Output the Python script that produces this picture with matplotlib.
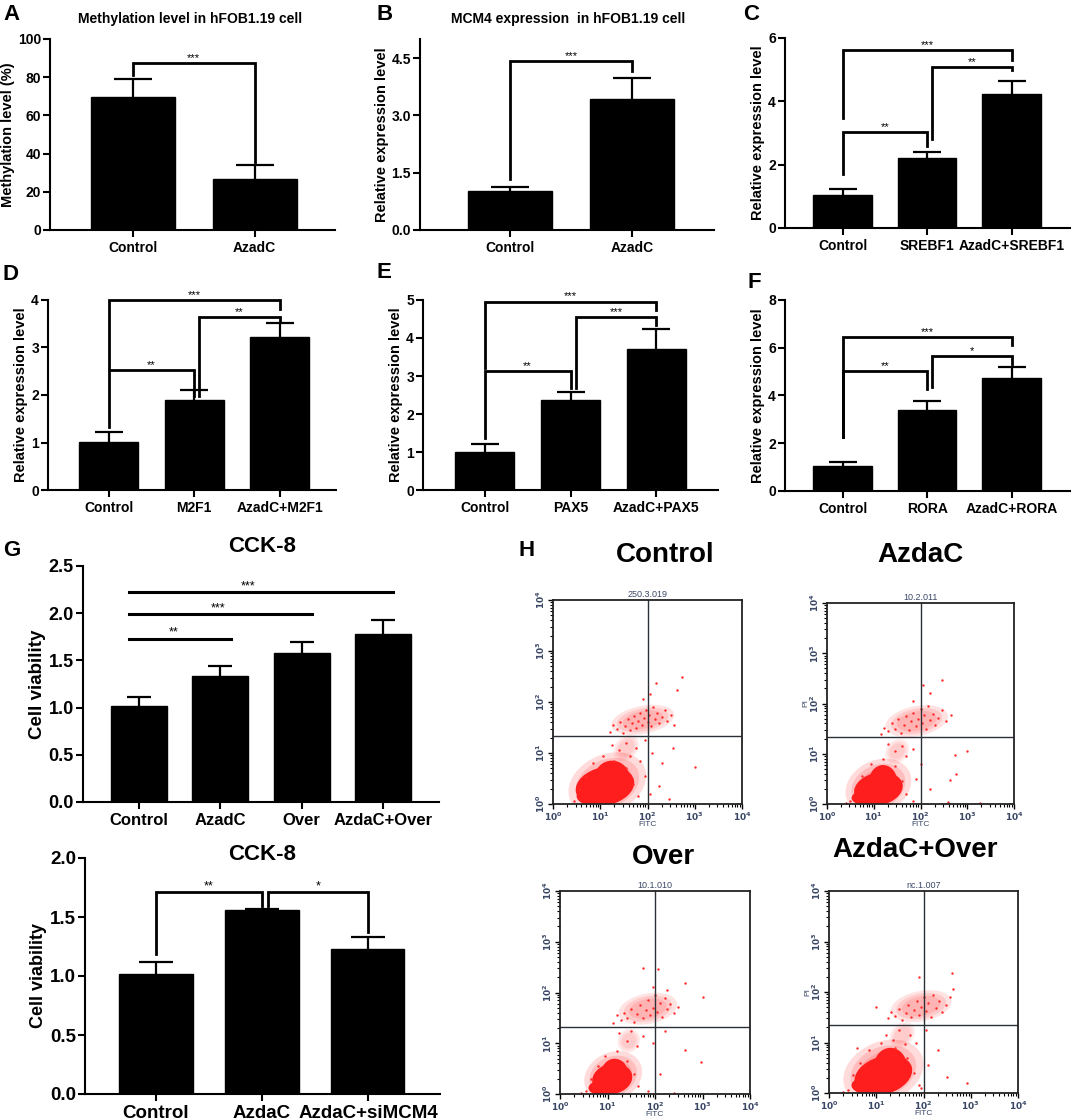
import numpy as np
import matplotlib
matplotlib.use("Agg")
import matplotlib.pyplot as plt
from matplotlib.patches import Ellipse

plt.rcParams['font.family'] = ['Liberation Sans', 'DejaVu Sans']
plt.rcParams['font.weight'] = 'bold'
plt.rcParams['axes.linewidth'] = 1.5

W, H = 1072, 1120

# ---------------- bar chart data (mean, sd) ----------------
a_groups = ['Control', 'AzadC']
a_means = [69.4, 26.6]
a_sds = [9.6, 7.2]
a_brackets = [(0, 1, 87.4, 81.0, 35.7, '***')]

b_groups = ['Control', 'AzadC']
b_means = [1.02, 3.44]
b_sds = [0.11, 0.55]
b_brackets = [(0, 1, 4.42, 1.33, 4.17, '***')]

c_groups = ['Control', 'SREBF1', 'AzadC+SREBF1']
c_means = [1.03, 2.22, 4.24]
c_sds = [0.19, 0.18, 0.39]
c_brackets = [(0, 2, 5.61, 3.48, 5.29, '***'),
              (1, 2, 5.08, 2.82, 4.98, '**'),
              (0, 1, 3.03, 1.69, 2.59, '**')]

d_groups = ['Control', 'M2F1', 'AzadC+M2F1']
d_means = [1.01, 1.90, 3.22]
d_sds = [0.21, 0.20, 0.29]
d_brackets = [(0, 2, 3.99, 2.57, 3.81, '***'),
              (1, 2, 3.65, 1.98, 3.55, '**'),
              (0, 1, 2.53, 1.33, 1.98, '**')]

e_groups = ['Control', 'PAX5', 'AzadC+PAX5']
e_means = [1.01, 2.37, 3.70]
e_sds = [0.20, 0.22, 0.54]
e_brackets = [(0, 2, 4.96, 3.20, 4.74, '***'),
              (1, 2, 4.56, 2.68, 4.34, '***'),
              (0, 1, 3.13, 1.36, 2.68, '**')]

f_groups = ['Control', 'RORA', 'AzadC+RORA']
f_means = [1.05, 3.41, 4.74]
f_sds = [0.18, 0.34, 0.45]
f_brackets = [(0, 2, 6.46, 2.27, 6.11, '***'),
              (1, 2, 5.65, 4.36, 5.34, '*'),
              (0, 1, 5.03, 2.27, 4.29, '**')]

g1_groups = ['Control', 'AzadC', 'Over', 'AzdaC+Over']
g1_means = [1.02, 1.34, 1.58, 1.78]
g1_sds = [0.09, 0.10, 0.11, 0.15]
# (end group, height, star position, label)
g1_lines = [(1, 1.73, 0.42, '**'), (2, 1.99, 0.97, '***'), (3, 2.22, 1.34, '***')]

g2_groups = ['Control', 'AzdaC', 'AzdaC+siMCM4']
g2_means = [1.02, 1.56, 1.23]
g2_sds = [0.10, 0.01, 0.10]
g2_brackets = [(0, 1, 1.71, 1.19, 1.59, '**'),
               (1, 2, 1.71, 1.59, 1.37, '*')]

# ---------------- flow cytometry data (log10 units) ----------------
flow_titles = ['Control', 'AzdaC', 'Over', 'AzdaC+Over']
flow_tags = ['250.3.019', '10.2.011', '10.1.010', 'nc.1.007']
flow_gate_fitc = [2.0, 2.0, 2.0, 2.0]
flow_gate_pi = [1.33, 1.33, 1.32, 1.34]

# dense cores: (centre fitc, centre pi, width, height, angle)
ctrl_core = [(1.10, 0.35, 1.25, 0.75, 10), (1.25, 0.50, 0.75, 0.70, 0), (0.85, 0.15, 0.70, 0.35, 0)]
azd_core = [(1.10, 0.30, 1.05, 0.65, 10), (1.20, 0.45, 0.60, 0.65, 0), (0.85, 0.12, 0.65, 0.30, 0)]
over_core = [(1.10, 0.30, 0.85, 0.60, 10), (1.15, 0.42, 0.55, 0.55, 0), (0.90, 0.12, 0.60, 0.30, 0)]
azo_core = [(1.15, 0.35, 1.25, 0.75, 15), (1.30, 0.52, 0.70, 0.75, 0), (0.85, 0.15, 0.75, 0.35, 0)]

# looser haze round the core and the upper (late apoptotic) cluster: (cx, cy, w, h, angle, alpha)
ctrl_haze = [(1.15, 0.40, 1.70, 1.15, 20, 0.35), (1.90, 1.65, 1.35, 0.55, 10, 0.28),
             (1.55, 1.10, 0.60, 0.45, 40, 0.18)]
azd_haze = [(1.10, 0.35, 1.45, 1.05, 20, 0.35), (1.92, 1.65, 1.35, 0.60, 10, 0.28),
            (1.50, 1.05, 0.55, 0.45, 40, 0.18)]
over_haze = [(1.12, 0.35, 1.25, 0.95, 20, 0.35), (1.85, 1.68, 1.25, 0.60, 10, 0.28),
             (1.45, 1.05, 0.50, 0.45, 40, 0.18)]
azo_haze = [(1.15, 0.42, 1.75, 1.20, 20, 0.35), (1.95, 1.72, 1.30, 0.60, 10, 0.28),
            (1.55, 1.15, 0.60, 0.45, 40, 0.18)]

ctrl_fitc = [1.20, 1.28, 1.35, 1.42, 1.48, 1.52, 1.58, 1.63, 1.68, 1.72, 1.76, 1.80, 1.84, 1.88,
             1.92, 1.96, 2.00, 2.04, 2.08, 2.12, 2.16, 2.20, 2.25, 2.30, 2.36, 2.42, 2.50, 2.56,
             1.90, 2.05, 2.19, 2.62, 2.72,
             1.25, 1.40, 1.55, 1.62, 1.75, 1.85, 1.95, 2.10, 2.30, 2.55, 3.00, 2.25, 2.45, 1.95, 2.05,
             0.45, 0.55, 0.70, 0.85, 1.05, 1.30, 1.55, 1.70, 1.80, 0.65]
ctrl_pi = [1.42, 1.55, 1.48, 1.60, 1.40, 1.52, 1.66, 1.45, 1.58, 1.72, 1.50, 1.62, 1.78, 1.55,
           1.68, 1.84, 1.60, 1.74, 1.52, 1.90, 1.66, 1.78, 1.58, 1.70, 1.85, 1.62, 1.75, 1.55,
           2.05, 2.15, 2.37, 2.24, 2.49,
           1.15, 1.05, 1.20, 0.95, 1.10, 0.85, 1.25, 1.00, 0.80, 1.10, 0.73, 0.35, 0.10, 0.55, 0.20,
           0.05, 0.30, 0.55, 0.80, 0.95, 0.85, 0.70, 0.40, 0.15, 0.02]

azd_fitc = [1.15, 1.22, 1.30, 1.38, 1.45, 1.52, 1.58, 1.64, 1.70, 1.75, 1.80, 1.85, 1.90, 1.95,
            2.00, 2.04, 2.08, 2.12, 2.16, 2.20, 2.26, 2.32, 2.38, 2.45, 2.55, 2.65, 1.85, 2.05,
            2.45, 2.20,
            1.30, 1.45, 1.60, 1.70, 1.85, 2.00, 2.74, 2.99, 2.77, 2.63, 3.27, 2.59, 2.20, 1.90,
            0.50, 0.60, 0.75, 0.95, 1.20, 1.45, 1.60, 1.70, 0.40, 1.85]
azd_pi = [1.40, 1.52, 1.45, 1.62, 1.50, 1.70, 1.42, 1.58, 1.75, 1.48, 1.65, 1.82, 1.55, 1.70,
          1.90, 1.62, 1.78, 1.50, 1.95, 1.68, 1.80, 1.58, 1.72, 1.88, 1.65, 1.78, 2.05, 2.37,
          2.47, 2.20,
          1.20, 1.05, 1.15, 0.95, 1.10, 0.80, 0.97, 1.06, 0.60, 0.48, 0.02, 0.04, 0.30, 0.50,
          0.05, 0.30, 0.55, 0.80, 0.90, 0.75, 0.45, 0.20, 0.02, 0.05]

over_fitc = [1.12, 1.20, 1.28, 1.35, 1.42, 1.50, 1.56, 1.62, 1.68, 1.74, 1.80, 1.86, 1.90, 1.95,
             2.00, 2.05, 2.10, 2.15, 2.20, 2.25, 2.32, 2.40, 2.48, 1.95, 2.25, 1.75, 2.06, 2.63,
             3.00,
             1.25, 1.40, 1.50, 1.62, 1.75, 1.95, 2.20, 2.63, 2.97, 2.10, 1.85, 2.40,
             0.55, 0.65, 0.80, 0.95, 1.20, 1.40, 1.55, 1.65, 0.45]
over_pi = [1.40, 1.55, 1.45, 1.60, 1.50, 1.68, 1.42, 1.58, 1.75, 1.50, 1.65, 1.85, 1.55, 1.70,
           1.95, 1.62, 1.80, 1.52, 1.90, 1.68, 1.78, 1.60, 1.72, 2.10, 2.05, 2.48, 2.46, 2.19,
           1.91,
           1.20, 1.05, 1.25, 0.95, 1.15, 1.00, 1.25, 0.87, 0.63, 0.40, 0.05, 0.02,
           0.05, 0.30, 0.55, 0.75, 0.85, 0.65, 0.40, 0.15, 0.02]

azo_fitc = [1.25, 1.32, 1.40, 1.48, 1.55, 1.62, 1.68, 1.74, 1.80, 1.86, 1.90, 1.95, 2.00, 2.05,
            2.10, 2.15, 2.20, 2.26, 2.32, 2.40, 2.48, 2.56, 2.62, 2.60, 1.90, 1.00,
            1.20, 1.35, 1.48, 1.60, 1.72, 1.85, 2.05, 2.30, 2.92, 2.49, 2.10, 1.95, 0.59,
            0.40, 0.50, 0.65, 0.85, 1.10, 1.40, 1.65, 1.80, 1.90, 0.30]
azo_pi = [1.48, 1.60, 1.52, 1.66, 1.45, 1.58, 1.75, 1.50, 1.64, 1.82, 1.55, 1.70, 1.90, 1.62,
          1.78, 1.50, 1.95, 1.68, 1.82, 1.60, 1.75, 1.90, 2.05, 2.37, 2.30, 1.70,
          1.15, 1.05, 1.25, 0.98, 1.15, 1.00, 1.25, 0.85, 0.20, 0.32, 0.55, 0.10, 0.89,
          0.05, 0.35, 0.60, 0.85, 1.00, 0.90, 0.70, 0.40, 0.15, 0.02]

flow_cores = [ctrl_core, azd_core, over_core, azo_core]
flow_hazes = [ctrl_haze, azd_haze, over_haze, azo_haze]
flow_fitc = [ctrl_fitc, azd_fitc, over_fitc, azo_fitc]
flow_pi = [ctrl_pi, azd_pi, over_pi, azo_pi]


fig = plt.figure(figsize=(W / 100, H / 100), dpi=100)


def px_axes(left, top, right, bottom):
    return fig.add_axes([left / W, 1 - bottom / H, (right - left) / W, (bottom - top) / H])


def ftext(x, y, s, **kw):
    fig.text(x / W, 1 - y / H, s, **kw)


def bar_panel(ax, groups, means, sds, ylim, yticks, fmt, xlim, cap,
              ylabel, fs_tick=10, fs_x=10, fs_yl=10.5):
    x = np.arange(len(groups))
    # bars sit above the symmetric error bars so only the upper half shows
    ax.bar(x, means, width=0.69, color='black', edgecolor='black', lw=1, zorder=3)
    ax.errorbar(x, means, yerr=sds, fmt='none', ecolor='black',
                elinewidth=1.6, capsize=cap, capthick=1.6, zorder=2)
    ax.set_xlim(*xlim)
    ax.set_ylim(*ylim)
    ax.set_yticks(yticks)
    ax.set_yticklabels([fmt.format(v) for v in yticks])
    ax.set_xticks(x)
    ax.set_xticklabels(groups)
    ax.spines['top'].set_visible(False)
    ax.spines['right'].set_visible(False)
    ax.tick_params(axis='both', direction='out', length=5, width=1.5, pad=1.5)
    ax.tick_params(axis='y', labelsize=fs_tick)
    ax.tick_params(axis='x', labelsize=fs_x, pad=3)
    ax.set_ylabel(ylabel, fontsize=fs_yl, fontweight='bold', labelpad=2)


def draw_brackets(ax, brackets, fs=8):
    for i, j, y, yl, yr, label in brackets:
        xl = i + (0.06 if i > 0 else 0)
        xr = j
        ax.plot([xl, xl, xr, xr], [yl, y, y, yr], color='black', lw=2,
                solid_joinstyle='miter', clip_on=False, zorder=4)
        ax.text((xl + xr) / 2, y, label, ha='center', va='bottom', fontsize=fs,
                fontweight='normal')


rel = 'Relative expression level'

ax = px_axes(50, 39, 335, 230)
bar_panel(ax, a_groups, a_means, a_sds, (0, 100), [0, 20, 40, 60, 80, 100], '{:.0f}',
          (-0.68, 1.66), 13.5, 'Methylation level (%)', fs_yl=10.5)
draw_brackets(ax, a_brackets)

ax = px_axes(420, 39, 714, 230)
bar_panel(ax, b_groups, b_means, b_sds, (0, 5.0), [0, 1.5, 3.0, 4.5], '{:.1f}',
          (-0.74, 1.67), 13.5, rel)
draw_brackets(ax, b_brackets)

ax = px_axes(785, 38, 1070, 228)
bar_panel(ax, c_groups, c_means, c_sds, (0, 6), [0, 2, 4, 6], '{:.0f}',
          (-0.68, 2.69), 10, rel)
draw_brackets(ax, c_brackets)

ax = px_axes(48, 300, 336, 490)
bar_panel(ax, d_groups, d_means, d_sds, (0, 4), [0, 1, 2, 3, 4], '{:.0f}',
          (-0.71, 2.66), 10, rel)
draw_brackets(ax, d_brackets)

ax = px_axes(423, 300, 718, 490)
bar_panel(ax, e_groups, e_means, e_sds, (0, 5), [0, 1, 2, 3, 4, 5], '{:.0f}',
          (-0.72, 2.72), 10, rel)
draw_brackets(ax, e_brackets)

ax = px_axes(785, 300, 1070, 491)
bar_panel(ax, f_groups, f_means, f_sds, (0, 8), [0, 2, 4, 6, 8], '{:.0f}',
          (-0.68, 2.69), 10, rel)
draw_brackets(ax, f_brackets)

ax = px_axes(83, 566, 439, 802)
bar_panel(ax, g1_groups, g1_means, g1_sds, (0, 2.5), [0, 0.5, 1.0, 1.5, 2.0, 2.5], '{:.1f}',
          (-0.69, 3.69), 8.5, 'Cell viability', fs_tick=13, fs_x=12, fs_yl=13.5)
for j, y, sx, label in g1_lines:
    ax.plot([-0.13, j + 0.13], [y, y], color='black', lw=2.2)
    ax.text(sx, y, label, ha='center', va='bottom', fontsize=9, fontweight='normal')

ax = px_axes(85, 858, 440, 1094)
bar_panel(ax, g2_groups, g2_means, g2_sds, (0, 2.0), [0, 0.5, 1.0, 1.5, 2.0], '{:.1f}',
          (-0.67, 2.68), 12.5, 'Cell viability', fs_tick=13.5, fs_x=13.5, fs_yl=13)
draw_brackets(ax, g2_brackets, fs=9)

# ---------------- flow cytometry panels ----------------
flow_boxes = [(553, 600, 742, 804), (827, 603, 1014, 804),
              (560, 891, 750, 1094), (829, 891, 1018, 1093)]
flow_title_pos = [(665, 555), (920, 555), (663, 857), (915, 850)]
show_pi = [False, True, False, True]

major = [0, 1, 2, 3, 4]
minor = [k + np.log10(m) for k in range(4) for m in range(2, 10)]
tick_col = '#3a4866'
red = '#ff1e1e'

for n in range(4):
    ax = px_axes(*flow_boxes[n])
    # soft-edged haze: each ellipse drawn as a few nested, fainter layers
    for cx, cy, w, h, ang, alpha in flow_hazes[n]:
        for k in (1.0, 0.82, 0.64):
            ax.add_patch(Ellipse((cx, cy), w * k, h * k, angle=ang, facecolor=red,
                                 alpha=alpha * 0.45, lw=0))
    for cx, cy, w, h, ang in flow_cores[n]:
        ax.add_patch(Ellipse((cx, cy), w, h, angle=ang, facecolor=red, lw=0))
    ax.scatter(flow_fitc[n], flow_pi[n], s=3, color='#ff2a2a', marker='o', lw=0)
    ax.axvline(flow_gate_fitc[n], color='#2b2f36', lw=1)
    ax.axhline(flow_gate_pi[n], color='#2b2f36', lw=1)
    ax.set_xlim(0, 4)
    ax.set_ylim(0, 4)
    ax.set_xticks(major)
    ax.set_yticks(major)
    ax.set_xticks(minor, minor=True)
    ax.set_yticks(minor, minor=True)
    labels = ['$10^{%d}$' % k for k in major]
    ax.set_xticklabels(labels)
    ax.set_yticklabels(labels, rotation=90, va='center')
    for spine in ax.spines.values():
        spine.set_linewidth(1.3)
        spine.set_color('#222222')
    ax.tick_params(which='major', direction='out', length=3.5, width=1, labelsize=6.5,
                   labelcolor=tick_col, pad=1)
    ax.tick_params(which='minor', direction='out', length=2, width=0.8)
    ax.set_xlabel('FITC', fontsize=6, fontweight='normal', color=tick_col, labelpad=-1)
    if show_pi[n]:
        ax.set_ylabel('PI', fontsize=6, fontweight='normal', color=tick_col, labelpad=-1)
    ax.set_title(flow_tags[n], fontsize=6.5, fontweight='normal', color=tick_col, pad=2)
    tx, ty = flow_title_pos[n]
    ftext(tx, ty, flow_titles[n], fontsize=20, fontweight='bold', ha='center', va='center')

# ---------------- titles and panel letters ----------------
ftext(190, 19, 'Methylation level in hFOB1.19 cell', fontsize=10, ha='center', va='center')
ftext(568, 19, 'MCM4 expression  in hFOB1.19 cell', fontsize=10, ha='center', va='center')
ftext(262, 546, 'CCK-8', fontsize=16, ha='center', va='center')
ftext(262, 855, 'CCK-8', fontsize=16, ha='center', va='center')

letters = ['A', 'B', 'C', 'D', 'E', 'F', 'G', 'H']
letter_pos = [(3, 14), (376, 14), (743, 14), (3, 274), (377, 272), (747, 282), (3, 551), (518, 551)]
for s, (lx, ly) in zip(letters, letter_pos):
    ftext(lx, ly, s, fontsize=16, ha='left', va='center')

fig.savefig('out.png', dpi=100)
